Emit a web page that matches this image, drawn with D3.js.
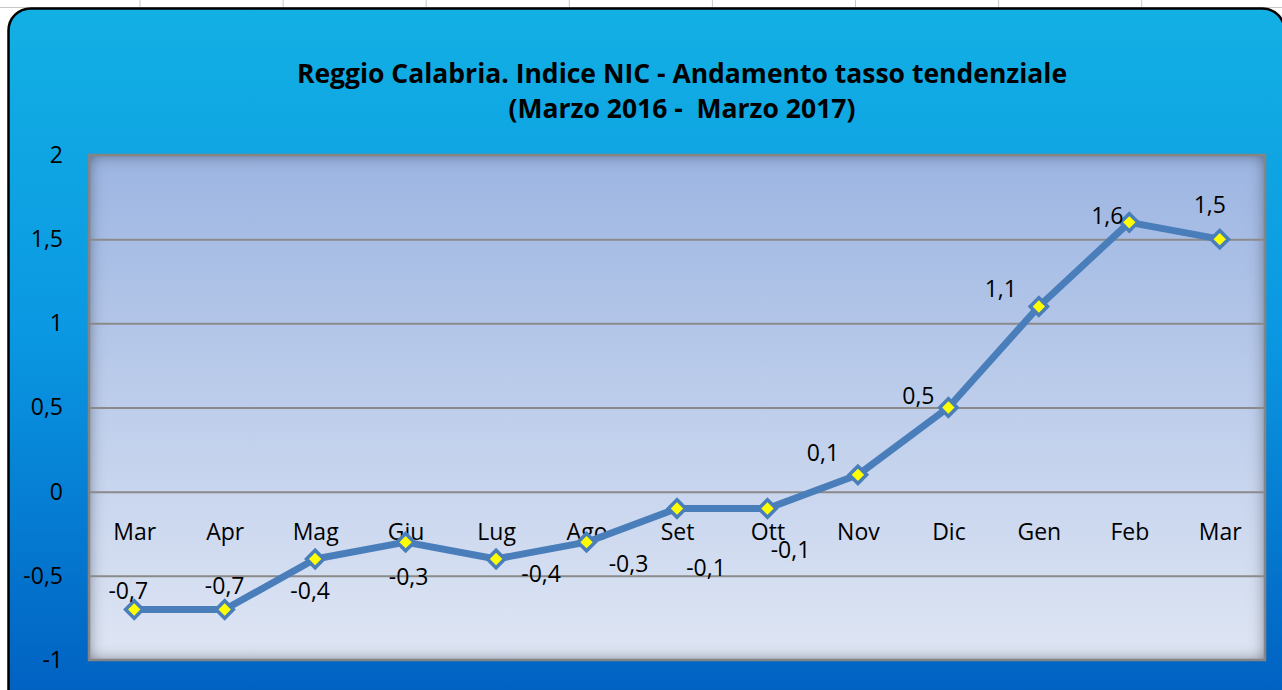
<!DOCTYPE html>
<html>
<head>
<meta charset="utf-8">
<script src="https://cdn.jsdelivr.net/npm/d3@7"></script>
<style>
  body { margin: 0; background: #fff; }
  svg { display: block; font-family: "Open Sans", sans-serif; }
  text { white-space: pre; }
</style>
</head>
<body>
<div id="chart"></div>
<script>
/* Reggio Calabria - indice NIC, tasso tendenziale */

const months = ["Mar", "Apr", "Mag", "Giu", "Lug", "Ago", "Set", "Ott", "Nov", "Dic", "Gen", "Feb", "Mar"];
const rates = [-0.7, -0.7, -0.4, -0.3, -0.4, -0.3, -0.1, -0.1, 0.1, 0.5, 1.1, 1.6, 1.5];
const yTicks = [-1, -0.5, 0, 0.5, 1, 1.5, 2];
const titleLines = ["Reggio Calabria. Indice NIC - Andamento tasso tendenziale", "(Marzo 2016 -  Marzo 2017)"];

// where each data label sits relative to its point (Excel put them by hand)
const labelOffsets = [[-6, -19], [0, -24], [-5, 32], [3, 35], [45, 15], [42, 22], [29, 59], [23, 41], [-35, -22], [-30, -12], [-38, -18], [-22, -6], [-10, -34]];

const width = 1282,
      height = 690,
      margin = ({ top: 155, right: 17, bottom: 30, left: 89 });

const svg = d3.select("#chart")
    .append("svg")
    .attr("width", width)
    .attr("height", height)
    .attr("viewBox", [0, 0, width, height]);

const defs = svg.append("defs");

const bg = defs.append("linearGradient").attr("id", "bg")
    .attr("x1", 0).attr("y1", 0).attr("x2", 0).attr("y2", 1);
bg.append("stop").attr("offset", "0%").attr("stop-color", "#13b0e4");
bg.append("stop").attr("offset", "45%").attr("stop-color", "#0a98e2");
bg.append("stop").attr("offset", "100%").attr("stop-color", "#005cbf");

const plotBg = defs.append("linearGradient").attr("id", "plotBg")
    .attr("x1", 0).attr("y1", 0).attr("x2", 0).attr("y2", 1);
plotBg.append("stop").attr("offset", "0%").attr("stop-color", "#9cb5e2");
plotBg.append("stop").attr("offset", "100%").attr("stop-color", "#dfe6f4");

// inner shadow of the plot area
const shadow = defs.append("filter").attr("id", "inner")
    .attr("x", "-5%").attr("y", "-5%").attr("width", "110%").attr("height", "110%");
shadow.append("feFlood").attr("flood-color", "#2e3a50").attr("flood-opacity", 0.9);
shadow.append("feComposite").attr("in2", "SourceAlpha").attr("operator", "out");
shadow.append("feGaussianBlur").attr("stdDeviation", 8);
shadow.append("feComposite").attr("in2", "SourceAlpha").attr("operator", "in").attr("result", "sh");
shadow.append("feMerge").selectAll("feMergeNode")
    .data(["SourceGraphic", "sh"]).join("feMergeNode").attr("in", d => d);

/* sheet cell lines behind the chart */
svg.append("line")
    .attr("x1", 0).attr("x2", width).attr("y1", 7.5).attr("y2", 7.5)
    .attr("stroke", "#c8c8c8");
svg.append("g").selectAll("line")
    .data(d3.range(140, width, 143.1))
    .join("line")
    .attr("x1", d => d).attr("x2", d => d).attr("y1", 0).attr("y2", 8)
    .attr("stroke", "#c8c8c8");

/* chart area */
svg.append("rect")
    .attr("x", 8.5).attr("y", 8.5)
    .attr("width", 1276).attr("height", 720)
    .attr("rx", 22)
    .attr("fill", "url(#bg)")
    .attr("stroke", "#000")
    .attr("stroke-width", 2.5);

svg.append("g")
    .selectAll("text")
    .data(titleLines)
    .join("text")
    .attr("x", 682)
    .attr("y", (d, i) => 83 + i * 35)
    .attr("text-anchor", "middle")
    .attr("font-weight", "bold")
    .attr("font-size", 26.5)
    .attr("fill", "#000")
    .text(d => d);

let x = d3.scalePoint()
    .domain(d3.range(months.length))
    .range([margin.left, width - margin.right])
    .padding(0.5);

let y = d3.scaleLinear()
    .domain([-1, 2])
    .range([height - margin.bottom, margin.top]);

/* plot area */
svg.append("rect")
    .attr("x", margin.left).attr("y", margin.top)
    .attr("width", width - margin.right - margin.left)
    .attr("height", y(-1) - y(2))
    .attr("fill", "url(#plotBg)")
    .attr("filter", "url(#inner)");

const yAxis = g => g
    .attr("transform", `translate(${margin.left}, 0)`)
    .call(d3.axisLeft(y).tickValues(yTicks).tickSize(-(width - margin.right - margin.left))
        .tickFormat(d => String(d).replace(".", ",")))
    .call(g => g.select(".domain").remove())
    .call(g => g.selectAll(".tick line")
        .attr("stroke", "#8a8a8a").attr("stroke-width", 2)
        .attr("display", d => (d === -1 || d === 2) ? "none" : null))
    .call(g => g.selectAll(".tick text")
        .attr("x", -26).attr("font-size", 23).attr("fill", "#000")
        .attr("font-family", "Open Sans, sans-serif"));

svg.append("g").call(yAxis);

svg.append("rect")
    .attr("x", margin.left).attr("y", margin.top)
    .attr("width", width - margin.right - margin.left)
    .attr("height", y(-1) - y(2))
    .attr("fill", "none")
    .attr("stroke", "#858585")
    .attr("stroke-width", 2.5);

/* category labels sit just under the zero line */
const xAxis = g => g
    .attr("transform", `translate(0, ${y(0)})`)
    .call(d3.axisBottom(x).tickSize(0).tickPadding(32).tickFormat(i => months[i]))
    .call(g => g.select(".domain").remove())
    .call(g => g.selectAll(".tick text")
        .attr("font-size", 23).attr("fill", "#000")
        .attr("font-family", "Open Sans, sans-serif"));

svg.append("g").call(xAxis);

const line = d3.line()
    .x((d, i) => x(i))
    .y(d => y(d));

svg.append("path")
    .datum(rates)
    .attr("fill", "none")
    .attr("stroke", "#4a7ebb")
    .attr("stroke-width", 7)
    .attr("stroke-linejoin", "round")
    .attr("d", line);

let point = svg.selectAll(".point")
    .data(rates)
    .join("g")
    .attr("class", "point")
    .attr("transform", (d, i) => `translate(${x(i)}, ${y(d)})`);

point.append("path")
    .attr("d", d3.symbol(d3.symbolSquare, 150)())
    .attr("transform", "rotate(45)")
    .attr("fill", "#ffff00")
    .attr("stroke", "#4a7ebb")
    .attr("stroke-width", 3.5);

point.append("text")
    .attr("x", (d, i) => labelOffsets[i][0])
    .attr("y", (d, i) => labelOffsets[i][1])
    .attr("dy", "0.35em")
    .attr("text-anchor", "middle")
    .attr("font-size", 23)
    .attr("fill", "#000")
    .text(d => String(d).replace(".", ","));
</script>
</body>
</html>
